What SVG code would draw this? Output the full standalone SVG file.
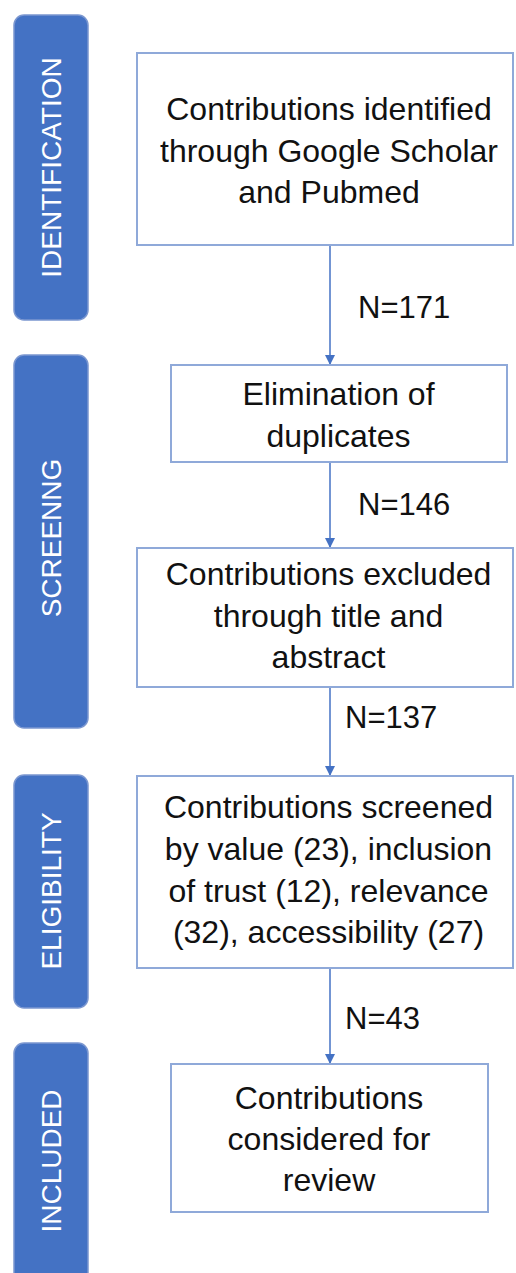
<svg xmlns="http://www.w3.org/2000/svg" width="516" height="1273" viewBox="0 0 516 1273">
<style>
.bar{fill:#4472C4;stroke:#7B97D0;stroke-width:1.5}
.bt{fill:#FFFFFF;font-family:"Liberation Sans",Arial,sans-serif;font-size:28px;text-anchor:middle}
.box{fill:#FFFFFF;stroke:#8FA9D9;stroke-width:2}
.t{fill:#111111;font-family:"Liberation Sans",Arial,sans-serif;font-size:32px;text-anchor:middle}
.n{fill:#111111;font-family:"Liberation Sans",Arial,sans-serif;font-size:31px}
.c{stroke:#4472C4;stroke-width:1.5;fill:none;marker-end:url(#ah)}
</style>
<defs>
<marker id="ah" viewBox="0 0 10 10" refX="10" refY="5" markerWidth="10" markerHeight="10" markerUnits="userSpaceOnUse" orient="auto">
<path d="M0,0 L10,5 L0,10 z" fill="#4472C4"/>
</marker>
</defs>
<rect width="516" height="1273" fill="#FFFFFF"/>
<g id="stage-identification">
<rect class="bar" x="14" y="15" width="74" height="305" rx="10"/>
<text class="bt" transform="translate(61,167.5) rotate(-90)">IDENTIFICATION</text>
</g>
<g id="stage-screening">
<rect class="bar" x="14" y="355" width="74" height="373" rx="10"/>
<text class="bt" transform="translate(61,538) rotate(-90)">SCREENNG</text>
</g>
<g id="stage-eligibility">
<rect class="bar" x="14" y="775" width="74" height="233" rx="10"/>
<text class="bt" transform="translate(61,891) rotate(-90)">ELIGIBILITY</text>
</g>
<g id="stage-included">
<rect class="bar" x="14" y="1043" width="74" height="250" rx="10"/>
<text class="bt" transform="translate(61,1161) rotate(-90)">INCLUDED</text>
</g>
<g id="connectors">
<line class="c" x1="330" y1="245" x2="330" y2="365"/>
<line class="c" x1="330" y1="462" x2="330" y2="548"/>
<line class="c" x1="330" y1="687" x2="330" y2="776"/>
<line class="c" x1="330" y1="968" x2="330" y2="1064"/>
<text class="n" x="358" y="318">N=171</text>
<text class="n" x="358" y="515">N=146</text>
<text class="n" x="345" y="728">N=137</text>
<text class="n" x="345" y="1029">N=43</text>
</g>
<g id="box-identified">
<rect class="box" x="137" y="53" width="376" height="192"/>
<text class="t" x="329" y="120">Contributions identified</text>
<text class="t" x="329" y="162">through Google Scholar</text>
<text class="t" x="329" y="203">and Pubmed</text>
</g>
<g id="box-duplicates">
<rect class="box" x="171" y="365" width="336" height="97"/>
<text class="t" x="338.5" y="405">Elimination of</text>
<text class="t" x="338.5" y="447">duplicates</text>
</g>
<g id="box-excluded">
<rect class="box" x="137" y="548" width="376" height="139"/>
<text class="t" x="328.5" y="585">Contributions excluded</text>
<text class="t" x="328.5" y="627">through title and</text>
<text class="t" x="328.5" y="668">abstract</text>
</g>
<g id="box-screened">
<rect class="box" x="137" y="776" width="376" height="192"/>
<text class="t" x="328.5" y="818">Contributions screened</text>
<text class="t" x="328.5" y="860">by value (23), inclusion</text>
<text class="t" x="328.5" y="902">of trust (12), relevance</text>
<text class="t" x="328.5" y="943">(32), accessibility (27)</text>
</g>
<g id="box-included">
<rect class="box" x="171" y="1064" width="317" height="148"/>
<text class="t" x="329" y="1109">Contributions</text>
<text class="t" x="329" y="1150">considered for</text>
<text class="t" x="329" y="1191">review</text>
</g>
</svg>
